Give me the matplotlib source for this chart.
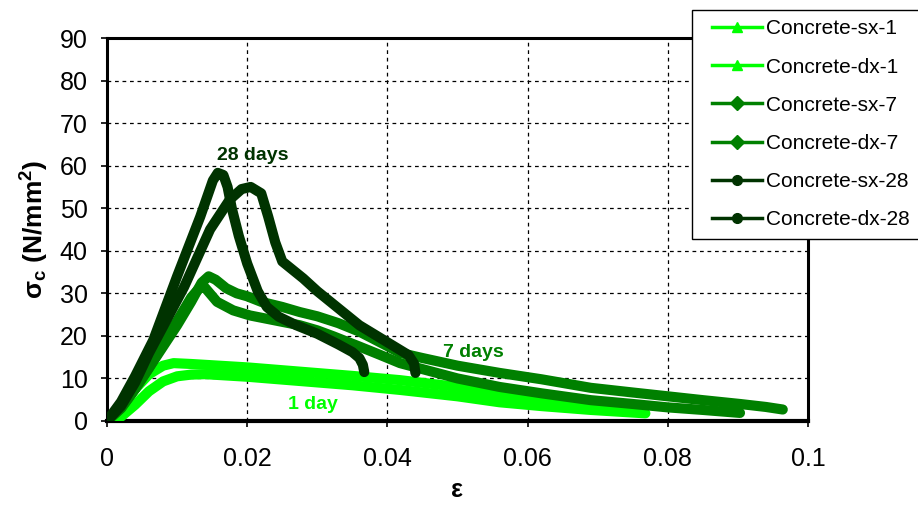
import matplotlib
matplotlib.use("Agg")
import matplotlib.pyplot as plt
from matplotlib.lines import Line2D
from matplotlib.legend_handler import HandlerLine2D

plt.rcParams['font.family'] = ['Liberation Sans', 'DejaVu Sans']
plt.rcParams['mathtext.fontset'] = 'custom'
plt.rcParams['mathtext.rm'] = 'Liberation Sans:bold'
plt.rcParams['mathtext.bf'] = 'Liberation Sans:bold'
plt.rcParams['mathtext.it'] = 'Liberation Sans:bold'

# Stress-strain curves (strain, stress in N/mm^2)
sx1_eps = [0, 0.002, 0.004, 0.006, 0.008, 0.0095, 0.012, 0.02, 0.0275, 0.035, 0.0418,
           0.05, 0.056, 0.062, 0.069, 0.0765]
sx1_sig = [0, 3.5, 7.5, 11, 13, 13.6, 13.4, 12.6, 11.6, 10.6, 9.6,
           8, 6.3, 5.2, 4, 2.6]

dx1_eps = [0, 0.002, 0.004, 0.006, 0.008, 0.01, 0.012, 0.014, 0.02, 0.0275, 0.035,
           0.0418, 0.05, 0.056, 0.062, 0.069, 0.0768]
dx1_sig = [0, 1.0, 3.8, 7.0, 9.3, 10.5, 10.9, 11.0, 10.4, 9.4, 8.4,
           7.3, 5.8, 4.4, 3.5, 2.6, 1.8]

sx7_eps = [0, 0.002, 0.004, 0.006, 0.008, 0.01, 0.012, 0.0135, 0.0145, 0.0155, 0.017,
           0.0185, 0.02, 0.022, 0.025, 0.0275, 0.03, 0.033, 0.036, 0.04, 0.0418,
           0.045, 0.05, 0.056, 0.062, 0.069, 0.075, 0.08, 0.085, 0.0903, 0.094, 0.0964]
sx7_sig = [0, 3, 7.5, 12.5, 17.5, 22.5, 28, 32.5, 34, 33.2, 31.2,
           30, 29.3, 28, 26.8, 25.6, 24.6, 23, 21, 17.6, 16,
           14.8, 13, 11.3, 9.8, 7.8, 6.7, 5.8, 4.9, 4.0, 3.3, 2.7]

dx7_eps = [0, 0.002, 0.004, 0.006, 0.008, 0.01, 0.012, 0.0133, 0.014, 0.0157, 0.018,
           0.0204, 0.025, 0.0275, 0.03, 0.0323, 0.036, 0.039, 0.0418, 0.05, 0.056,
           0.062, 0.069, 0.075, 0.08, 0.085, 0.0903]
dx7_sig = [0, 3, 7.5, 12.5, 18, 23.5, 29, 31.5, 31.3, 28, 26,
           24.8, 23.3, 22.5, 21.3, 19.9, 17.5, 15.5, 13.6, 10, 8,
           6.5, 4.9, 4, 3.2, 2.6, 1.9]

sx28_eps = [0, 0.002, 0.004, 0.0066, 0.01, 0.0133, 0.0151, 0.0158, 0.0166, 0.0172,
            0.0178, 0.0188, 0.02, 0.0215, 0.0228, 0.0245, 0.027, 0.03, 0.033, 0.035,
            0.036, 0.0365, 0.0367]
sx28_sig = [0, 4.5, 10.5, 19, 34, 48, 56.5, 58.3, 57.8, 55,
            50, 43.5, 37, 30.5, 26.8, 24.5, 22.5, 20.5, 18, 16.2,
            14.8, 13.2, 11.5]

dx28_eps = [0, 0.002, 0.004, 0.006, 0.011, 0.0147, 0.0175, 0.0192, 0.0205, 0.022,
            0.023, 0.024, 0.025, 0.0265, 0.028, 0.03, 0.033, 0.036, 0.039, 0.041,
            0.043, 0.0438, 0.044]
dx28_sig = [0, 3.5, 9, 16, 31.5, 45, 52, 54.5, 55, 53.5,
            48, 42, 37.5, 35.5, 33.5, 30.5, 26.5, 22.5, 19.5, 17.5,
            15.5, 13.5, 11.3]

labels = ["Concrete-sx-1", "Concrete-dx-1", "Concrete-sx-7",
          "Concrete-dx-7", "Concrete-sx-28", "Concrete-dx-28"]
colors = ["#00FF00", "#00FF00", "#008000", "#008000", "#003300", "#003300"]
markers = ["^", "^", "D", "D", "o", "o"]
series = [(sx1_eps, sx1_sig), (dx1_eps, dx1_sig), (sx7_eps, sx7_sig),
          (dx7_eps, dx7_sig), (sx28_eps, sx28_sig), (dx28_eps, dx28_sig)]

x_ticks = [0, 0.02, 0.04, 0.06, 0.08, 0.1]
x_tick_labels = ["0", "0.02", "0.04", "0.06", "0.08", "0.1"]
y_ticks = [0, 10, 20, 30, 40, 50, 60, 70, 80, 90]

fig = plt.figure(figsize=(9.18, 5.09), dpi=100)
ax = fig.add_axes([107 / 918, 1 - 421 / 509, (808 - 107) / 918, (421 - 38) / 509])

for (ex, sy), c in zip(series, colors):
    ax.plot(ex, sy, color=c, lw=7.3, solid_capstyle='round',
            solid_joinstyle='round', zorder=3)

ax.set_xlim(0, 0.1)
ax.set_ylim(0, 90)
ax.set_xticks(x_ticks)
ax.set_xticklabels(x_tick_labels)
ax.set_yticks(y_ticks)
ax.tick_params(axis='both', direction='out', length=4, width=1.2,
               labelsize=18, colors='black')
ax.tick_params(axis='x', pad=15)
ax.tick_params(axis='y', pad=10)
ax.grid(True, color='black', linestyle=(0, (3, 3)), linewidth=0.9, zorder=1)
for side in ['left', 'right', 'top']:
    ax.spines[side].set_linewidth(2.2)
ax.spines['bottom'].set_linewidth(3)

ax.set_ylabel("σ$_c$ (N/mm$^2$)", fontsize=19, fontweight='bold', labelpad=6)
ax.set_xlabel("ε", fontsize=18, fontweight='bold', labelpad=5)

ax.text(0.0208, 62.5, "28 days", color="#003300", fontsize=14,
        fontweight='bold', ha='center', va='center', zorder=5)
ax.text(0.0522, 16.0, "7 days", color="#008000", fontsize=14,
        fontweight='bold', ha='center', va='center', zorder=5)
ax.text(0.0294, 3.9, "1 day", color="#00FF00", fontsize=14,
        fontweight='bold', ha='center', va='center', zorder=5)

handles = [Line2D([0], [0], color=c, lw=2.5, marker=m, markersize=7,
                  markerfacecolor=c, markeredgecolor=c)
           for c, m in zip(colors, markers)]
leg = ax.legend(handles, labels, loc='upper left',
                bbox_to_anchor=(692 / 918, 1 - 10 / 509),
                bbox_transform=fig.transFigure, fontsize=15,
                frameon=True, fancybox=False, framealpha=1,
                edgecolor='black', handlelength=2.9, handletextpad=0.2,
                labelspacing=0.92, borderpad=0.45, borderaxespad=0,
                handler_map={Line2D: HandlerLine2D(xpad=0.5)})
leg.get_frame().set_linewidth(1.0)
leg.set_zorder(10)

fig.savefig("out.png", dpi=100)
